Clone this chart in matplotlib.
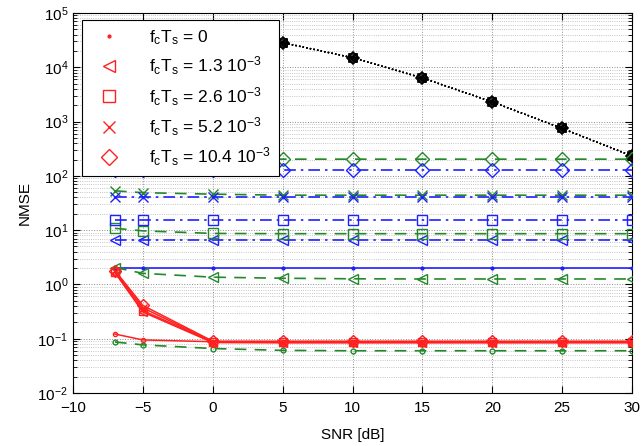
import numpy as np
import matplotlib.pyplot as plt
from matplotlib.ticker import LogLocator, NullFormatter

plt.rcParams['font.family'] = ['Liberation Sans', 'DejaVu Sans']
plt.rcParams['mathtext.fontset'] = 'custom'
plt.rcParams['mathtext.rm'] = 'Liberation Sans'
plt.rcParams['mathtext.it'] = 'Liberation Sans:italic'

# SNR points (dB)
snr = [-7, -5, 0, 5, 10, 15, 20, 25, 30]
snr_black = [0, 5, 10, 15, 20, 25, 30]

# normalized carrier offsets f_c T_s and their markers
fcts_labels = ['0', '1.3', '2.6', '5.2', '10.4']
markers = ['.', '<', 's', 'x', 'D']

# red: solid curves
red_nmse = [
    [0.122, 0.095, 0.088, 0.086, 0.086, 0.086, 0.086, 0.086, 0.086],
    [1.65, 0.31, 0.085, 0.084, 0.084, 0.084, 0.084, 0.084, 0.084],
    [1.70, 0.33, 0.087, 0.086, 0.086, 0.086, 0.086, 0.086, 0.086],
    [1.75, 0.37, 0.088, 0.088, 0.088, 0.088, 0.088, 0.088, 0.088],
    [1.80, 0.41, 0.090, 0.090, 0.090, 0.090, 0.090, 0.090, 0.090],
]

# blue: dash-dot curves (first one solid)
blue_nmse = [
    [2.03, 2.03, 2.03, 2.03, 2.03, 2.03, 2.03, 2.03, 2.03],
    [6.5, 6.5, 6.5, 6.5, 6.5, 6.5, 6.5, 6.5, 6.5],
    [15.6, 15.6, 15.6, 15.6, 15.6, 15.6, 15.6, 15.6, 15.6],
    [40, 40, 40, 40, 40, 40, 40, 40, 40],
    [128, 128, 128, 128, 128, 128, 128, 128, 128],
]

# green: dashed curves
green_nmse = [
    [0.087, 0.077, 0.066, 0.061, 0.060, 0.060, 0.060, 0.060, 0.060],
    [2.05, 1.6, 1.36, 1.30, 1.27, 1.26, 1.26, 1.26, 1.26],
    [10.8, 9.7, 8.7, 8.6, 8.6, 8.6, 8.6, 8.6, 8.6],
    [53, 49, 46, 44, 44, 44, 44, 44, 44],
    [210, 206, 204, 203, 203, 203, 203, 203, 203],
]

# black: dotted curve (all offsets coincide)
black_nmse = [55000, 28400, 15000, 6350, 2300, 747, 232]

fig = plt.figure(figsize=(6.44, 4.46), dpi=100)
ax = fig.add_axes([0.1134, 0.1188, 0.8680, 0.8521])

red = '#ff2020'
blue = '#2020ff'
green = '#23882a'
ms = 6
for k, m in enumerate(markers):
    # black dotted
    ax.plot(snr_black, black_nmse, color='black', linestyle=':', lw=1.0,
            marker=m, ms=ms, mfc='none', mec='black', mew=1.2, zorder=3)
    # green dashed
    ax.plot(snr, green_nmse[k], color=green, lw=1.2, dashes=(7, 5),
            marker=m, ms=ms + 1, mfc='none', mec=green, zorder=3)
    # blue
    if k == 0:
        ax.plot(snr, blue_nmse[k], color=blue, lw=1.2, linestyle='-',
                marker=m, ms=4, zorder=3)
    else:
        ax.plot(snr, blue_nmse[k], color=blue, lw=1.2,
                dashes=(7, 3, 1.5, 3), marker=m, ms=ms + 1, mfc='none',
                mec=blue, zorder=3)
    # red solid
    ax.plot(snr, red_nmse[k], color=red, lw=1.1, linestyle='-',
            marker=m, ms=ms, mfc='none', mec=red, zorder=4)

# legend handles: red markers only
handles = []
for k, m in enumerate(markers):
    if k == 0:
        lab = r'$\mathrm{f_cT_s}$ = 0'
    else:
        lab = r'$\mathrm{f_cT_s}$ = ' + fcts_labels[k] + r' 10$^{-3}$'
    h, = ax.plot([], [], linestyle='none', marker=m,
                 ms=4 if m == '.' else 8,
                 mfc='none' if m != '.' else red, mec=red, label=lab)
    handles.append(h)

leg = ax.legend(handles=handles, loc='upper left', fontsize=12.5,
                labelspacing=0.45, handletextpad=1.2, handlelength=2.2,
                borderpad=0.45, borderaxespad=0,
                fancybox=False, framealpha=1, edgecolor='black',
                bbox_to_anchor=(0.016, 0.981))
leg.get_frame().set_linewidth(0.8)
leg.set_zorder(10)

ax.set_yscale('log')
ax.set_xlim(-10, 30)
ax.set_ylim(1e-2, 1e5)
ax.set_xticks(np.arange(-10, 31, 5))
ax.yaxis.set_major_locator(LogLocator(base=10, numticks=10))
ax.yaxis.set_minor_locator(LogLocator(base=10, subs=np.arange(2, 10), numticks=20))
ax.yaxis.set_minor_formatter(NullFormatter())

ax.grid(True, which='major', axis='both', linestyle=':', color='0.55', lw=0.7)
ax.grid(True, which='minor', axis='y', linestyle=':', color='0.7', lw=0.6)
ax.tick_params(which='both', direction='in', top=True, right=True, labelsize=11)
ax.tick_params(axis='x', pad=6)
ax.tick_params(which='major', length=5)
ax.tick_params(which='minor', length=3)
for s in ax.spines.values():
    s.set_linewidth(0.8)

ax.set_xlabel('SNR [dB]', fontsize=11, labelpad=9)
ax.set_ylabel('NMSE', fontsize=11, labelpad=4)

fig.savefig('out.png', dpi=100)
